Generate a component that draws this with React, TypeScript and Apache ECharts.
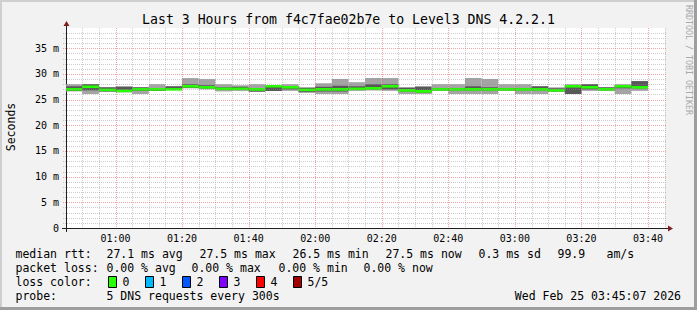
import React, { useEffect, useRef } from 'react';
import * as echarts from 'echarts';

const FONT = '"DejaVu Sans Mono", "Liberation Mono", monospace';

// 5-minute RRD steps (start time of each step)
const stepStarts = [
  '00:45', '00:50', '00:55', '01:00', '01:05', '01:10', '01:15', '01:20', '01:25', '01:30',
  '01:35', '01:40', '01:45', '01:50', '01:55', '02:00', '02:05', '02:10', '02:15', '02:20',
  '02:25', '02:30', '02:35', '02:40', '02:45', '02:50', '02:55', '03:00', '03:05', '03:10',
  '03:15', '03:20', '03:25', '03:30', '03:35',
];
// ping distribution per step, in ms
const outerLow = [
  26.6, 26.1, 26.5, 26.4, 26.1, 26.7, 26.9, 27.2, 27.0, 26.6,
  26.7, 26.5, 26.7, 26.7, 26.3, 26.1, 26.1, 26.7, 26.8, 26.7,
  26.1, 26.1, 26.7, 26.1, 26.1, 26.1, 26.7, 26.1, 26.1, 26.5,
  26.1, 26.7, 26.7, 26.1, 26.7,
];
const innerLow = [
  26.7, 26.8, 26.6, 26.5, 26.7, 26.7, 26.9, 27.3, 27.2, 26.9,
  26.9, 26.6, 26.7, 27.0, 26.5, 26.6, 26.6, 26.9, 27.0, 27.0,
  26.6, 26.4, 26.8, 26.8, 26.8, 26.8, 26.8, 26.8, 26.8, 26.6,
  26.1, 27.0, 26.8, 27.2, 27.2,
];
const medianRtt = [
  27.0, 27.5, 26.9, 26.7, 27.0, 27.0, 27.0, 27.6, 27.4, 27.1,
  27.1, 27.0, 27.6, 27.4, 26.9, 27.0, 27.0, 27.1, 27.2, 27.6,
  26.8, 26.6, 27.0, 27.0, 27.0, 27.0, 27.0, 27.0, 27.0, 26.8,
  27.6, 27.4, 27.0, 27.6, 27.4,
];
const innerHigh = [
  27.6, 28.0, 27.4, 27.5, 27.4, 27.1, 27.6, 28.0, 27.8, 27.4,
  27.5, 27.2, 27.6, 27.6, 27.3, 27.5, 27.7, 27.6, 28.0, 28.0,
  27.3, 27.5, 27.2, 27.2, 27.6, 27.4, 27.2, 27.2, 27.6, 27.2,
  27.6, 28.0, 27.4, 27.8, 28.6,
];
const outerHigh = [
  28.0, 28.0, 27.4, 27.6, 27.4, 28.0, 27.6, 29.2, 29.0, 28.0,
  27.8, 28.0, 27.8, 28.0, 27.4, 28.2, 29.0, 28.4, 29.2, 29.2,
  27.4, 27.6, 28.0, 28.0, 29.2, 29.0, 28.0, 28.0, 27.6, 27.4,
  28.0, 28.0, 27.4, 28.0, 28.6,
];
const lossCount = [
  0, 0, 0, 0, 0, 0, 0, 0, 0, 0,
  0, 0, 0, 0, 0, 0, 0, 0, 0, 0,
  0, 0, 0, 0, 0, 0, 0, 0, 0, 0,
  0, 0, 0, 0, 0,
];

const xTickLabels = ['01:00', '01:20', '01:40', '02:00', '02:20', '02:40', '03:00', '03:20', '03:40'];
const yTickValues = [0, 5, 10, 15, 20, 25, 30, 35];

const lossLabels = ['0', '1', '2', '3', '4', '5/5'];
const lossColors = ['#26ff00', '#00b8ff', '#0059ff', '#7e00ff', '#ff0000', '#a10000'];

const rttStats = ['27.1 ms avg', '27.5 ms max', '26.5 ms min', '27.5 ms now', '0.3 ms sd', '99.9', 'am/s'];
const lossStats = ['0.00 % avg', '0.00 % max', '0.00 % min', '0.00 % now'];
const probeText = '5 DNS requests every 300s';
const dateText = 'Wed Feb 25 03:45:07 2026';
const titleText = 'Last 3 Hours from f4c7fae02b7e to Level3 DNS 4.2.2.1';

const STEP_MIN = 5;
const X_MIN = 45 + 7 / 60;
const X_MAX = X_MIN + 180;
const Y_MAX = 38.95;

const toMin = (s: string) => {
  const [h, m] = s.split(':').map(Number);
  return h * 60 + m;
};
const fmtMin = (v: number) => {
  const t = Math.round(v);
  const h = Math.floor(t / 60);
  const m = t % 60;
  return `${String(h).padStart(2, '0')}:${String(m).padStart(2, '0')}`;
};

export default function App() {
  const ref = useRef<HTMLDivElement>(null);

  useEffect(() => {
    document.body.style.margin = '0';
    if (!ref.current) return;
    const chart = echarts.init(ref.current, undefined, { renderer: 'svg' });

    const smokeData = stepStarts.map((s, i) => [
      toMin(s), toMin(s) + STEP_MIN,
      outerLow[i], innerLow[i], medianRtt[i], innerHigh[i], outerHigh[i], lossCount[i],
    ]);

    // grid line positions (derived from the axis steps)
    const vLines: number[][] = [];
    for (let t = 50; t <= X_MAX; t += 5) vLines.push([t, t % 20 === 0 ? 1 : 0]);
    const hLines: number[][] = [];
    for (let v = 1; v < Y_MAX; v += 1) hLines.push([v, v % 5 === 0 ? 1 : 0]);

    const minorColor = 'rgba(143,143,143,0.45)';
    const majorColor = 'rgba(222,79,79,0.5)';

    const texts: any[] = [];
    const addText = (x: number, y: number, text: string, align = 'left', extra: any = {}) => {
      texts.push({
        type: 'text',
        x, y,
        silent: true,
        ...extra,
        style: {
          text,
          font: `${extra.fontSize || 11.5}px ${FONT}`,
          fill: extra.fill || '#000',
          align, verticalAlign: 'middle',
          textAlign: align, textVerticalAlign: 'middle',
        },
      });
    };

    addText(348.5, 19.5, titleText, 'center', { fontSize: 13.2 });
    addText(11, 127, 'Seconds', 'center', { rotation: Math.PI / 2, fontSize: 11.5 });
    addText(688.5, 5, 'RRDTOOL / TOBI OETIKER', 'left', { rotation: -Math.PI / 2, fontSize: 8.3, fill: '#a8a8a8' });

    const rttX = [107, 200, 293, 386, 479, 558, 607];
    addText(15.5, 254, 'median rtt:');
    rttStats.forEach((s, i) => addText(rttX[i] - 0.5, 254, s));
    const lossX = [107, 192, 279, 364];
    addText(15.5, 268, 'packet loss:');
    lossStats.forEach((s, i) => addText(lossX[i] - 0.5, 268, s));
    addText(15.5, 282, 'loss color:');
    const swatches: any[] = [];
    lossLabels.forEach((l, i) => {
      const bx = 108 + i * 37;
      swatches.push({
        type: 'rect', silent: true,
        shape: { x: bx + 0.5, y: 276.5, width: 8, height: 11 },
        style: { fill: lossColors[i], stroke: '#000', lineWidth: 1 },
      });
      addText(bx + 14.5, 282, l);
    });
    addText(15.5, 296, 'probe:');
    addText(106.5, 296, probeText);
    addText(681, 296, dateText, 'right');

    const option: any = {
      animation: false,
      backgroundColor: '#f2f2f2',
      grid: {
        left: 66, top: 28, width: 599, height: 200,
        show: true, backgroundColor: '#ffffff', borderWidth: 0,
      },
      xAxis: {
        type: 'value', min: X_MIN, max: X_MAX,
        axisLine: { show: true, onZero: false, lineStyle: { color: '#1f1f1f', width: 1 } },
        axisTick: { show: false },
        splitLine: { show: false },
        axisLabel: {
          customValues: xTickLabels.map(toMin),
          formatter: (v: number) => fmtMin(v),
          fontFamily: FONT, fontSize: 10, color: '#000', margin: 5,
        },
      },
      yAxis: {
        type: 'value', min: 0, max: Y_MAX,
        axisLine: { show: true, onZero: false, lineStyle: { color: '#1f1f1f', width: 1 } },
        axisTick: { show: false },
        splitLine: { show: false },
        axisLabel: {
          customValues: yTickValues,
          formatter: (v: number) => (v === 0 ? '0' : `${v} m`),
          fontFamily: FONT, fontSize: 10, color: '#000', margin: 7,
        },
      },
      series: [
        {
          type: 'custom',
          z: 2,
          data: smokeData,
          renderItem: (params: any, api: any) => {
            const cs = params.coordSys;
            const t0 = api.value(0);
            const t1 = api.value(1);
            const xa = Math.max(api.coord([t0, 0])[0], cs.x);
            const xb = Math.min(api.coord([t1, 0])[0], cs.x + cs.width);
            const y = (v: number) => api.coord([t0, v])[1];
            const w = xb - xa;
            const med = y(api.value(4));
            return {
              type: 'group',
              children: [
                { type: 'rect', shape: { x: xa, y: y(api.value(6)), width: w, height: y(api.value(2)) - y(api.value(6)) }, style: { fill: '#a4a4a4' } },
                { type: 'rect', shape: { x: xa, y: y(api.value(5)), width: w, height: y(api.value(3)) - y(api.value(5)) }, style: { fill: '#585858' } },
                { type: 'rect', shape: { x: xa, y: med - 1.3, width: w, height: 2.6 }, style: { fill: lossColors[api.value(7)] } },
              ],
            };
          },
        },
        {
          type: 'custom',
          z: 3,
          silent: true,
          data: vLines,
          renderItem: (params: any, api: any) => {
            const cs = params.coordSys;
            const x = Math.round(api.coord([api.value(0), 0])[0]) + 0.5;
            return {
              type: 'line',
              shape: { x1: x, y1: cs.y, x2: x, y2: cs.y + cs.height },
              style: { stroke: api.value(1) ? majorColor : minorColor, lineWidth: 1, lineDash: [1, 1] },
            };
          },
        },
        {
          type: 'custom',
          z: 3,
          silent: true,
          data: hLines,
          renderItem: (params: any, api: any) => {
            const cs = params.coordSys;
            const yv = Math.round(api.coord([X_MIN, api.value(0)])[1]) + 0.5;
            return {
              type: 'line',
              shape: { x1: cs.x - 3, y1: yv, x2: cs.x + cs.width + 1, y2: yv },
              style: { stroke: api.value(1) ? majorColor : minorColor, lineWidth: 1, lineDash: [1, 1] },
            };
          },
        },
      ],
      graphic: [
        // frame shading
        { type: 'rect', silent: true, shape: { x: 0, y: 0, width: 697, height: 2 }, style: { fill: '#cfcfcf' } },
        { type: 'rect', silent: true, shape: { x: 0, y: 0, width: 2, height: 310 }, style: { fill: '#cfcfcf' } },
        { type: 'rect', silent: true, shape: { x: 0, y: 307, width: 697, height: 3 }, style: { fill: '#9e9e9e' } },
        { type: 'rect', silent: true, shape: { x: 694, y: 0, width: 3, height: 310 }, style: { fill: '#9e9e9e' } },
        // axis overshoot and arrows
        { type: 'line', silent: true, shape: { x1: 62, y1: 228.5, x2: 669, y2: 228.5 }, style: { stroke: '#1f1f1f', lineWidth: 1 } },
        { type: 'line', silent: true, shape: { x1: 66.5, y1: 232, x2: 66.5, y2: 24 }, style: { stroke: '#1f1f1f', lineWidth: 1 } },
        { type: 'polygon', silent: true, shape: { points: [[63.5, 26], [69.5, 26], [66.5, 21]] }, style: { fill: '#801f1f' } },
        { type: 'polygon', silent: true, shape: { points: [[668, 225.5], [668, 231.5], [673, 228.5]] }, style: { fill: '#801f1f' } },
        ...swatches,
        ...texts,
      ],
    };

    chart.setOption(option);
    return () => chart.dispose();
  }, []);

  return (
    <div
      ref={ref}
      style={{ position: 'fixed', left: 0, top: 0, width: 697, height: 310 }}
    />
  );
}
